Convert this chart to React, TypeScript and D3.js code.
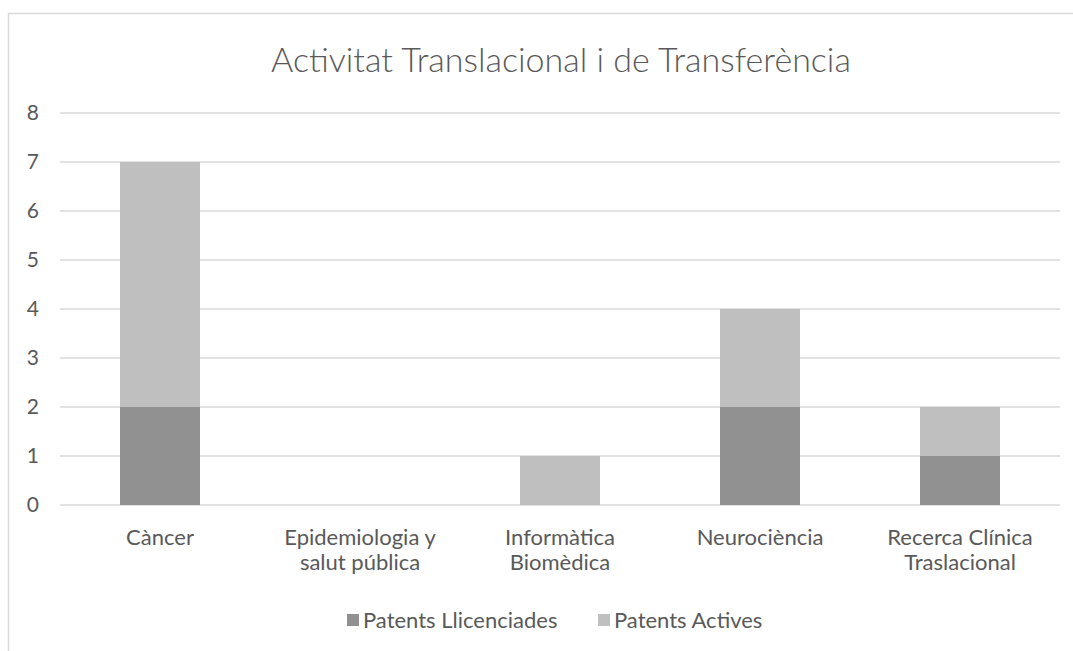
import React, { useEffect, useRef } from "react";
import * as d3 from "d3";

const categories = [
  ["Càncer"],
  ["Epidemiologia y", "salut pública"],
  ["Informàtica", "Biomèdica"],
  ["Neurociència"],
  ["Recerca Clínica", "Traslacional"],
];
const licensed = [2, 0, 0, 2, 1];
const active = [5, 0, 1, 2, 1];
const seriesNames = ["Patents Llicenciades", "Patents Actives"];
const seriesColors = ["#919191", "#bfbfbf"];
const yTicks = [0, 1, 2, 3, 4, 5, 6, 7, 8];
const title = "Activitat Translacional i de Transferència";

const App = () => {
  const svgRef = useRef<SVGSVGElement>(null);

  useEffect(() => {
    const svg = d3.select(svgRef.current);
    svg.selectAll("*").remove();

    const width = 1073;
    const height = 651;
    const margin = { top: 113, right: 13, bottom: 146, left: 60 };
    const font = "Lato, 'Open Sans', sans-serif";
    const textColor = "#595959";

    // chart frame (right and bottom edges fall outside the picture)
    svg
      .append("rect")
      .attr("x", 8.5)
      .attr("y", 13.5)
      .attr("width", width + 20)
      .attr("height", height + 20)
      .attr("fill", "#fff")
      .attr("stroke", "#d9d9d9")
      .attr("stroke-width", 1.5);

    const keys = categories.map((c) => c.join(" "));
    const data = keys.map((k, i) => ({ key: k, a: licensed[i], b: active[i] }));

    const x = d3
      .scaleBand()
      .domain(keys)
      .range([margin.left, width - margin.right])
      .paddingInner(0.6)
      .paddingOuter(0.3);

    const y = d3
      .scaleLinear()
      .domain([0, 8])
      .range([height - margin.bottom, margin.top]);

    svg
      .append("text")
      .attr("x", 561)
      .attr("y", 72)
      .attr("text-anchor", "middle")
      .attr("font-family", font)
      .attr("font-weight", 300)
      .attr("font-size", 34)
      .attr("fill", textColor)
      .text(title);

    // gridlines
    svg
      .append("g")
      .selectAll("line")
      .data(yTicks)
      .join("line")
      .attr("x1", margin.left)
      .attr("x2", width - margin.right)
      .attr("y1", (d) => y(d))
      .attr("y2", (d) => y(d))
      .attr("stroke", "#d9d9d9")
      .attr("stroke-width", 1.5);

    svg
      .append("g")
      .selectAll("text")
      .data(yTicks)
      .join("text")
      .attr("x", 39)
      .attr("y", (d) => y(d))
      .attr("dy", "0.35em")
      .attr("text-anchor", "end")
      .attr("font-family", font)
      .attr("font-size", 21)
      .attr("fill", textColor)
      .text((d) => d);

    const stacked = d3.stack<any>().keys(["a", "b"])(data);

    svg
      .append("g")
      .selectAll("g")
      .data(stacked)
      .join("g")
      .attr("fill", (_, i) => seriesColors[i])
      .selectAll("rect")
      .data((d) => d)
      .join("rect")
      .attr("x", (d) => x(d.data.key)!)
      .attr("width", x.bandwidth())
      .attr("y", (d) => y(d[1]))
      .attr("height", (d) => y(d[0]) - y(d[1]));

    // category labels
    const labels = svg
      .append("g")
      .selectAll("text")
      .data(categories)
      .join("text")
      .attr("text-anchor", "middle")
      .attr("font-family", font)
      .attr("font-size", 22)
      .attr("fill", textColor)
      .attr("transform", (_, i) => `translate(${x(keys[i])! + x.bandwidth() / 2},545)`);
    labels
      .selectAll("tspan")
      .data((d) => d)
      .join("tspan")
      .attr("x", 0)
      .attr("dy", (_, i) => (i === 0 ? 0 : 25))
      .text((d) => d);

    // legend
    const legendItems = [
      { x: 347, name: seriesNames[0], color: seriesColors[0] },
      { x: 598, name: seriesNames[1], color: seriesColors[1] },
    ];
    const lg = svg
      .append("g")
      .selectAll("g")
      .data(legendItems)
      .join("g")
      .attr("transform", (d) => `translate(${d.x},620)`);
    lg.append("rect")
      .attr("x", 0)
      .attr("y", -6)
      .attr("width", 12)
      .attr("height", 12)
      .attr("fill", (d) => d.color);
    lg.append("text")
      .attr("x", 16)
      .attr("dy", "0.35em")
      .attr("font-family", font)
      .attr("font-size", 22)
      .attr("fill", textColor)
      .text((d) => d.name);
  }, []);

  return (
    <svg
      ref={svgRef}
      width={1073}
      height={651}
      style={{ position: "absolute", left: 0, top: 0 }}
    ></svg>
  );
};

export default App;
